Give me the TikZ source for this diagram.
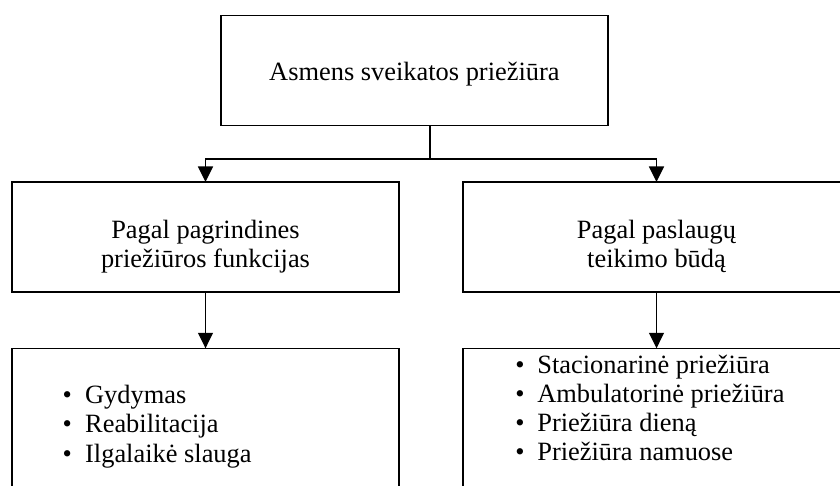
\documentclass[tikz,border=0pt]{standalone}
\usepackage{fontspec}
\setmainfont{Liberation Serif}
\usetikzlibrary{arrows.meta}
\begin{document}
\begin{tikzpicture}[x=1pt,y=-1pt,
  box/.style={draw, line width=1.4pt, rectangle, minimum width=387pt, minimum height=110pt, inner sep=0pt, outer sep=0pt},
  txt/.style={font=\fontsize{26.4}{29.5}\selectfont, inner sep=0pt, anchor=base},
  item/.style={font=\fontsize{26.4}{29.5}\selectfont, inner sep=0pt, anchor=base west},
  conn/.style={line width=1.4pt},
  arr/.style={line width=1.4pt, -{Triangle[width=15pt,length=15.5pt]}}]
\clip (0,0) rectangle (840,486);
\useasboundingbox (0,0) rectangle (840,486);
% boxes
\node[box] (top) at (414.4,70.7) {};
\node[box] (m1) at (205.5,237) {};
\node[box] (m2) at (656.5,237) {};
\node[box, minimum height=200pt] (b1) at (205.5,448.3) {};
\node[box, minimum height=200pt] (b2) at (656.5,448.3) {};
% texts
\node[txt] (topt) at (414.4,81) {Asmens sveikatos priežiūra};
\node[txt] (m1a) at (205.5,239) {Pagal pagrindines};
\node[txt] (m1b) at (205.5,268) {priežiūros funkcijas};
\node[txt] (m2a) at (656.5,239) {Pagal paslaugų};
\node[txt] (m2b) at (656.5,268) {teikimo būdą};
\node[item] (l1) at (62.3,403) {\makebox[22.7pt][l]{•}Gydymas};
\node[item] (l2) at (62.3,432.5) {\makebox[22.7pt][l]{•}Reabilitacija};
\node[item] (l3) at (62.3,462) {\makebox[22.7pt][l]{•}Ilgalaikė slauga};
\node[item] (r1) at (515.2,373.5) {\makebox[22pt][l]{•}Stacionarinė priežiūra};
\node[item] (r2) at (515.2,402.5) {\makebox[22pt][l]{•}Ambulatorinė priežiūra};
\node[item] (r3) at (515.2,431.5) {\makebox[22pt][l]{•}Priežiūra dieną};
\node[item] (r4) at (515.2,460.5) {\makebox[22pt][l]{•}Priežiūra namuose};
% connectors
\coordinate (j) at (430,159);
\draw[conn] (top.south -| j) -- (j);
\draw[arr] (j) -| (m1.north);
\draw[arr] (j) -| (m2.north);
\draw[arr] (m1.south) -- (b1.north);
\draw[arr] (m2.south) -- (b2.north);
\end{tikzpicture}
\end{document}
